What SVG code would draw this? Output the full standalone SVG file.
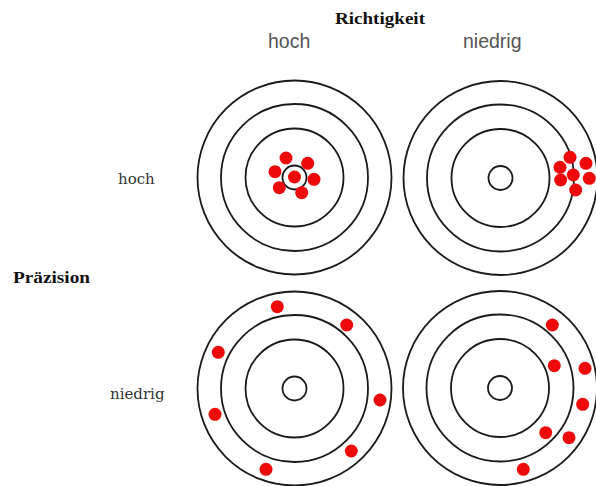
<svg xmlns="http://www.w3.org/2000/svg" width="596" height="486" viewBox="0 0 596 486">
<style>
.ring{fill:none;stroke:#1a1a1a;stroke-width:1.8}
.hit{fill:#ee0a0a}
.hdr{font-family:"Liberation Sans",Arial,sans-serif;font-size:19.5px;fill:#555}
.row{font-family:"DejaVu Serif",serif;font-size:15px;fill:#333}
.ttl{font-family:"Liberation Serif","Times New Roman",serif;font-weight:bold;fill:#111}
</style>
<defs>
<g id="target">
<circle class="ring" r="97"/>
<circle class="ring" r="73.5"/>
<circle class="ring" r="49"/>
<circle class="ring" r="12"/>
</g>
</defs>
<rect width="596" height="486" fill="#fff"/>
<g id="labels">
<text class="ttl" x="335" y="24" font-size="17.5" textLength="90" lengthAdjust="spacingAndGlyphs">Richtigkeit</text>
<text class="hdr" x="268" y="48">hoch</text>
<text class="hdr" x="463" y="48">niedrig</text>
<text class="row" x="118" y="184">hoch</text>
<text class="row" x="110" y="399">niedrig</text>
<text class="ttl" x="13" y="283" font-size="16" textLength="77" lengthAdjust="spacingAndGlyphs">Präzision</text>
</g>
<g id="t-hoch-hoch">
<use href="#target" x="294.5" y="177.5"/>
<circle class="hit" cx="294.5" cy="177" r="6.5"/>
<circle class="hit" cx="286" cy="158" r="6.5"/>
<circle class="hit" cx="307.7" cy="163.3" r="6.5"/>
<circle class="hit" cx="275" cy="171.7" r="6.5"/>
<circle class="hit" cx="314" cy="179.3" r="6.5"/>
<circle class="hit" cx="279.3" cy="187.7" r="6.5"/>
<circle class="hit" cx="301.7" cy="192.7" r="6.5"/>
</g>
<g id="t-hoch-niedrig">
<use href="#target" x="500.5" y="178"/>
<circle class="hit" cx="570" cy="157.3" r="6.5"/>
<circle class="hit" cx="586" cy="163.3" r="6.5"/>
<circle class="hit" cx="560" cy="167.3" r="6.5"/>
<circle class="hit" cx="573.3" cy="175" r="6.5"/>
<circle class="hit" cx="589.3" cy="178.3" r="6.5"/>
<circle class="hit" cx="560.7" cy="180" r="6.5"/>
<circle class="hit" cx="575.7" cy="190" r="6.5"/>
</g>
<g id="t-niedrig-hoch">
<use href="#target" x="294.5" y="388.5"/>
<circle class="hit" cx="277.3" cy="306.7" r="6.5"/>
<circle class="hit" cx="346.7" cy="325" r="6.5"/>
<circle class="hit" cx="218.3" cy="352.3" r="6.5"/>
<circle class="hit" cx="380" cy="400" r="6.5"/>
<circle class="hit" cx="215" cy="414.3" r="6.5"/>
<circle class="hit" cx="351.3" cy="451" r="6.5"/>
<circle class="hit" cx="266" cy="469.3" r="6.5"/>
</g>
<g id="t-niedrig-niedrig">
<use href="#target" x="500" y="388"/>
<circle class="hit" cx="552.3" cy="325" r="6.5"/>
<circle class="hit" cx="554.3" cy="365.7" r="6.5"/>
<circle class="hit" cx="585" cy="368.3" r="6.5"/>
<circle class="hit" cx="582.7" cy="404.3" r="6.5"/>
<circle class="hit" cx="545.7" cy="432.7" r="6.5"/>
<circle class="hit" cx="569" cy="437.7" r="6.5"/>
<circle class="hit" cx="523.3" cy="469.3" r="6.5"/>
</g>
</svg>
